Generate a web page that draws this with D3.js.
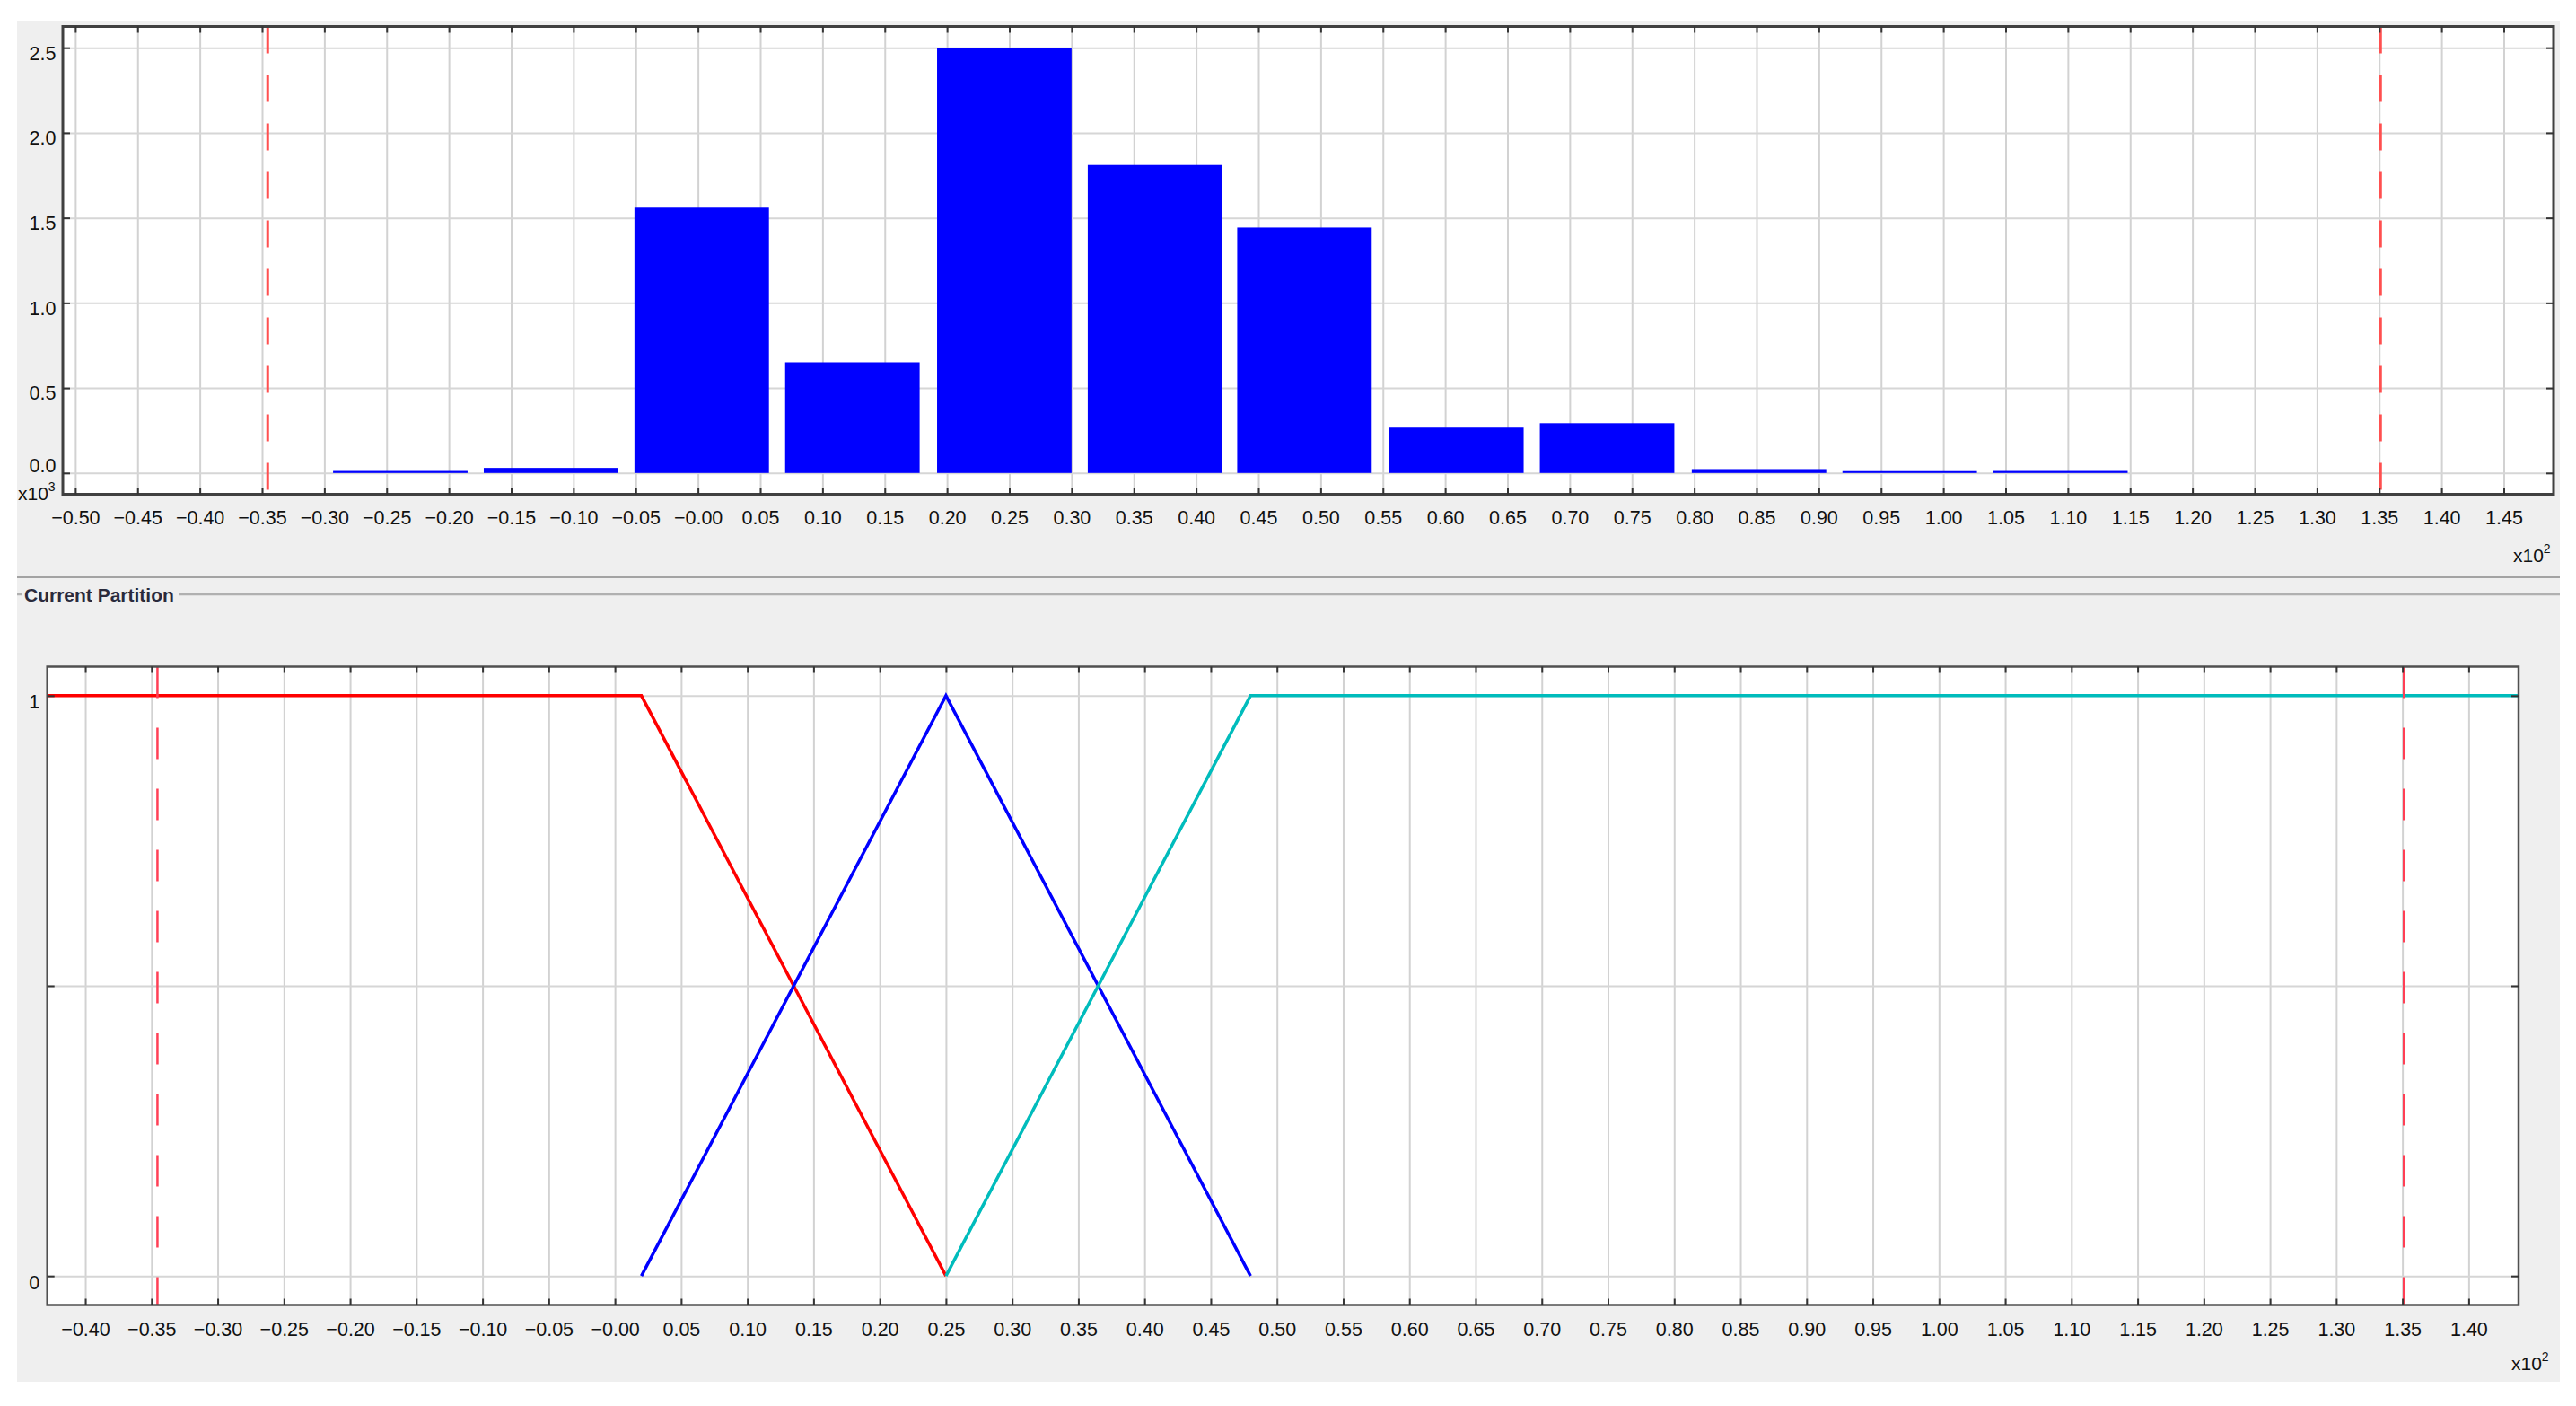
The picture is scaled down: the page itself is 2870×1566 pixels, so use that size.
<!DOCTYPE html>
<html>
<head>
<meta charset="utf-8">
<script src="https://cdn.jsdelivr.net/npm/d3@7"></script>
<style>
  body { margin: 0; background: #ffffff; }
  svg { display: block; }
  text { font-family: "Liberation Sans", Arial, sans-serif; fill: #111; }
</style>
</head>
<body>
<svg id="chart" width="2870" height="1566"></svg>
<script>
// ---------------- DATA ----------------
// Histogram (x in raw units, counts in raw units; axes show x10^2 and x10^3)
const histCenters = [-23.9, -11.8, 0.3, 12.4, 24.6, 36.7, 48.7, 60.9, 73.0, 85.2, 97.3, 109.4];
const histCounts  = [12, 30, 1560, 651, 2497, 1811, 1443, 267, 293, 23, 11, 12];
const histBarWidth = 10.8;

// Variable limits (red dashed lines)
const limits = [-34.55, 135.11];

// Axis domains
const topXDomain = [-51, 149];
const topYDomain = [-125, 2625];
const bottomXDomain = [-42.87, 143.77];
const bottomYDomain = [-0.05, 1.05];

// Tick labels
const topXTickLabels = ["−0.50","−0.45","−0.40","−0.35","−0.30","−0.25","−0.20","−0.15","−0.10","−0.05","−0.00",
  "0.05","0.10","0.15","0.20","0.25","0.30","0.35","0.40","0.45","0.50","0.55","0.60","0.65","0.70","0.75",
  "0.80","0.85","0.90","0.95","1.00","1.05","1.10","1.15","1.20","1.25","1.30","1.35","1.40","1.45"];
const topYTickLabels = ["0.0","0.5","1.0","1.5","2.0","2.5"];
const bottomXTickLabels = ["−0.40","−0.35","−0.30","−0.25","−0.20","−0.15","−0.10","−0.05","−0.00",
  "0.05","0.10","0.15","0.20","0.25","0.30","0.35","0.40","0.45","0.50","0.55","0.60","0.65","0.70","0.75",
  "0.80","0.85","0.90","0.95","1.00","1.05","1.10","1.15","1.20","1.25","1.30","1.35","1.40"];
const bottomYTicks = [0, 0.5, 1];
const bottomYTickLabels = ["0", "", "1"];

// Fuzzy partition (membership functions), x in raw units
const mfLowX  = [bottomXDomain[0], 2, 25];
const mfLowY  = [1, 1, 0];
const mfMidX  = [2, 25, 48];
const mfMidY  = [0, 1, 0];
const mfHighX = [25, 48, bottomXDomain[1]];
const mfHighY = [0, 1, 1];

const titleText = "Current Partition";

// ---------------- LAYOUT ----------------
const svg = d3.select("#chart");
const toNum = s => parseFloat(s.replace("−", "-"));
const topXTicks = topXTickLabels.map(s => Math.round(toNum(s) * 100));
const topYTicks = topYTickLabels.map(s => Math.round(toNum(s) * 1000));
const bottomXTicks = bottomXTickLabels.map(s => Math.round(toNum(s) * 100));

const P1 = {x0: 70, x1: 2845, y0: 29.5, y1: 550.5};
const P2 = {x0: 52.7, x1: 2806, y0: 742.5, y1: 1453.5};

// gray panel background
svg.append("rect").attr("x", 19).attr("y", 23).attr("width", 2833).attr("height", 1516).attr("fill", "#efefef");

// separator & titled border
svg.append("line").attr("x1", 19).attr("x2", 2852).attr("y1", 643).attr("y2", 643)
  .attr("stroke", "#a3a3a3").attr("stroke-width", 2);
svg.append("line").attr("x1", 19).attr("x2", 25).attr("y1", 662).attr("y2", 662)
  .attr("stroke", "#b0b0b0").attr("stroke-width", 2.5);
svg.append("line").attr("x1", 199).attr("x2", 2852).attr("y1", 662).attr("y2", 662)
  .attr("stroke", "#b0b0b0").attr("stroke-width", 2.5);
svg.append("text").attr("x", 27).attr("y", 670).attr("font-size", 21).attr("font-weight", "bold")
  .style("fill", "#2a2a3c").text(titleText);

function gridAndAxes(g, P, x, y, xTicks, yTicks) {
  const w = P.x1 - P.x0, h = P.y1 - P.y0;
  g.append("rect").attr("x", P.x0).attr("y", P.y0).attr("width", w).attr("height", h).attr("fill", "#fff");
  const gx = g.append("g").attr("transform", `translate(0,${P.y1})`)
    .call(d3.axisBottom(x).tickValues(xTicks).tickSize(-h).tickFormat(""));
  gx.select(".domain").remove();
  gx.selectAll("line").attr("stroke", "#d2d2d2").attr("stroke-width", 2);
  const gy = g.append("g").attr("transform", `translate(${P.x0},0)`)
    .call(d3.axisLeft(y).tickValues(yTicks).tickSize(-w).tickFormat(""));
  gy.select(".domain").remove();
  gy.selectAll("line").attr("stroke", "#d6d6d6").attr("stroke-width", 2);
}

function frameAndTicks(g, P, x, y, xTicks, xLabels, yTicks, yLabels, opts) {
  const w = P.x1 - P.x0, h = P.y1 - P.y0;
  g.append("rect").attr("x", P.x0).attr("y", P.y0).attr("width", w).attr("height", h)
    .attr("fill", "none").attr("stroke", opts.frameColor).attr("stroke-width", opts.frameWidth);
  const ab = g.append("g").attr("transform", `translate(0,${P.y1})`)
    .call(d3.axisBottom(x).tickValues(xTicks).tickSizeInner(-7).tickSizeOuter(0).tickPadding(opts.xPad)
      .tickFormat((d, i) => xLabels[i]));
  ab.select(".domain").remove();
  ab.selectAll("line").attr("stroke", "#333").attr("stroke-width", 2);
  ab.selectAll("text").attr("font-size", 21.5).style("fill", "#111");
  const at = g.append("g").attr("transform", `translate(0,${P.y0})`)
    .call(d3.axisTop(x).tickValues(xTicks).tickSizeInner(-7).tickSizeOuter(0).tickFormat(""));
  at.select(".domain").remove();
  at.selectAll("line").attr("stroke", "#333").attr("stroke-width", 2);
  const al = g.append("g").attr("transform", `translate(${P.x0},0)`)
    .call(d3.axisLeft(y).tickValues(yTicks).tickSizeInner(-8).tickSizeOuter(0).tickPadding(opts.yPad)
      .tickFormat((d, i) => yLabels[i]));
  al.select(".domain").remove();
  al.selectAll("line").attr("stroke", "#333").attr("stroke-width", 2);
  al.selectAll("text").attr("font-size", 21.5).style("fill", "#111")
    .attr("transform", (d, i) => `translate(0,${opts.yShift(d, i)})`);
  const ar = g.append("g").attr("transform", `translate(${P.x1},0)`)
    .call(d3.axisRight(y).tickValues(yTicks).tickSizeInner(-8).tickSizeOuter(0).tickFormat(""));
  ar.select(".domain").remove();
  ar.selectAll("line").attr("stroke", "#333").attr("stroke-width", 2);
}

function multiplier(g, xPos, yPos, exp) {
  const t = g.append("text").attr("x", xPos).attr("y", yPos).attr("font-size", 21).style("fill", "#111");
  t.append("tspan").text("x10");
  t.append("tspan").attr("dy", -10).attr("font-size", 14).text(exp);
}

// ---------------- TOP: HISTOGRAM ----------------
const xT = d3.scaleLinear().domain(topXDomain).range([P1.x0, P1.x1]);
const yT = d3.scaleLinear().domain(topYDomain).range([P1.y1, P1.y0]);
const gTop = svg.append("g");
gridAndAxes(gTop, P1, xT, yT, topXTicks, topYTicks);

gTop.append("g").selectAll("rect").data(histCenters).join("rect")
  .attr("x", d => xT(d - histBarWidth / 2))
  .attr("width", d => xT(d + histBarWidth / 2) - xT(d - histBarWidth / 2))
  .attr("y", (d, i) => yT(histCounts[i]))
  .attr("height", (d, i) => yT(0) - yT(histCounts[i]))
  .attr("fill", "#0000ff");

gTop.append("g").selectAll("line").data(limits).join("line")
  .attr("x1", d => xT(d)).attr("x2", d => xT(d))
  .attr("y1", P1.y0).attr("y2", P1.y1)
  .attr("stroke", "#ff5050").attr("stroke-width", 3).attr("stroke-dasharray", "30,24");

frameAndTicks(gTop, P1, xT, yT, topXTicks, topXTickLabels, topYTicks, topYTickLabels, {
  frameColor: "#404040", frameWidth: 3, xPad: 18, yPad: 7.5,
  yShift: (d) => d === 0 ? -8 : 6
});
multiplier(gTop, 20, 557, "3");
multiplier(gTop, 2800, 626, "2");

// ---------------- BOTTOM: PARTITION ----------------
const xB = d3.scaleLinear().domain(bottomXDomain).range([P2.x0, P2.x1]);
const yB = d3.scaleLinear().domain(bottomYDomain).range([P2.y1, P2.y0]);
const gBot = svg.append("g");
gridAndAxes(gBot, P2, xB, yB, bottomXTicks, bottomYTicks);

const lineGen = d3.line().x(d => xB(d[0])).y(d => yB(d[1]));
const mfs = [
  {xs: mfLowX, ys: mfLowY, color: "#ff0000"},
  {xs: mfMidX, ys: mfMidY, color: "#0000ff"},
  {xs: mfHighX, ys: mfHighY, color: "#00bcbc"}
];
gBot.append("g").selectAll("path").data(mfs).join("path")
  .attr("d", m => lineGen(m.xs.map((xv, i) => [xv, m.ys[i]])))
  .attr("fill", "none").attr("stroke", m => m.color).attr("stroke-width", 3.5)
  .attr("stroke-linejoin", "miter");

gBot.append("g").selectAll("line").data(limits).join("line")
  .attr("x1", d => xB(d)).attr("x2", d => xB(d))
  .attr("y1", P2.y0).attr("y2", P2.y1)
  .attr("stroke", "#ff3f55").attr("stroke-width", 2.5).attr("stroke-dasharray", "35,33");

frameAndTicks(gBot, P2, xB, yB, bottomXTicks, bottomXTickLabels, bottomYTicks, bottomYTickLabels, {
  frameColor: "#505050", frameWidth: 2.5, xPad: 19, yPad: 8.5,
  yShift: () => 7
});
multiplier(gBot, 2798, 1526, "2");
</script>
</body>
</html>
